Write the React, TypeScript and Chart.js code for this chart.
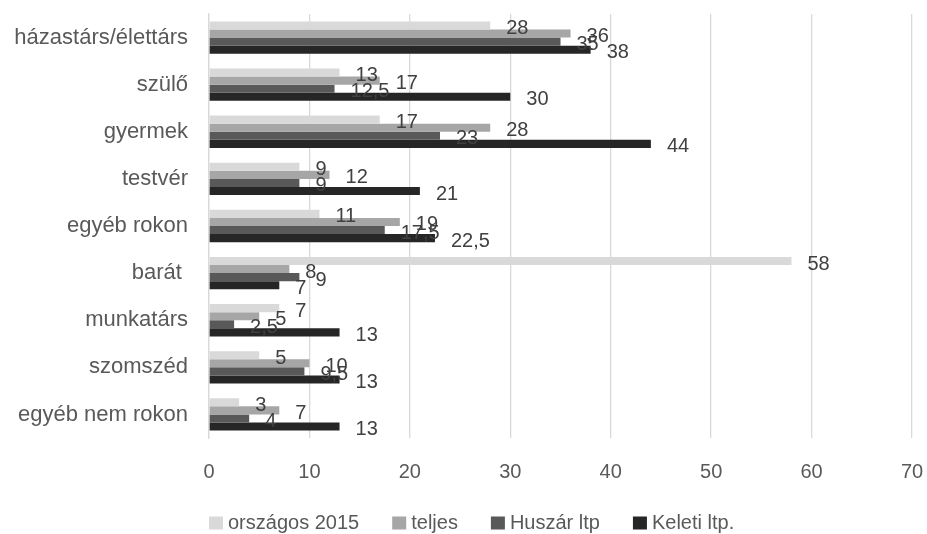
import React, { useEffect, useRef } from "react";
import { Chart, registerables } from "chart.js";

Chart.register(...registerables);

const categories = [
  "házastárs/élettárs",
  "szülő",
  "gyermek",
  "testvér",
  "egyéb rokon",
  "barát ",
  "munkatárs",
  "szomszéd",
  "egyéb nem rokon",
];
const seriesNames = ["országos 2015", "teljes", "Huszár ltp", "Keleti ltp."];
const orszagos2015 = [28, 13, 17, 9, 11, 58, 7, 5, 3];
const teljes = [36, 17, 28, 12, 19, 8, 5, 10, 7];
const huszarLtp = [35, 12.5, 23, 9, 17.5, 9, 2.5, 9.5, 4];
const keletiLtp = [38, 30, 44, 21, 22.5, 7, 13, 13, 13];
const xTicks = [0, 10, 20, 30, 40, 50, 60, 70];

const colors = ["#d9d9d9", "#a6a6a6", "#595959", "#262626"];
const FONT = "'Liberation Sans', Arial, sans-serif";

const labelPlugin = {
  id: "barValueLabels",
  afterDatasetsDraw(chart: any) {
    const ctx = chart.ctx;
    ctx.save();
    ctx.font = `20px ${FONT}`;
    ctx.fillStyle = "#404040";
    ctx.textAlign = "left";
    ctx.textBaseline = "middle";
    chart.data.datasets.forEach((ds: any, di: number) => {
      const meta = chart.getDatasetMeta(di);
      meta.data.forEach((bar: any, i: number) => {
        const v = ds.data[i];
        const txt = String(v).replace(".", ",");
        ctx.fillText(txt, bar.x + 16, bar.y + 3);
      });
    });
    ctx.restore();
  },
};

const legendPlugin = {
  id: "bottomLegend",
  afterDraw(chart: any) {
    const ctx = chart.ctx;
    ctx.save();
    ctx.font = `20px ${FONT}`;
    ctx.textAlign = "left";
    ctx.textBaseline = "middle";
    const yc = 523;
    let x = chart.chartArea.left;
    chart.data.datasets.forEach((ds: any) => {
      ctx.fillStyle = ds.backgroundColor;
      ctx.fillRect(x, yc - 6.5, 14, 13);
      ctx.fillStyle = "#595959";
      ctx.fillText(ds.label, x + 19, yc);
      x += 19 + ctx.measureText(ds.label).width + 33;
    });
    ctx.restore();
  },
};

export default function App() {
  const ref = useRef<HTMLCanvasElement>(null);
  useEffect(() => {
    if (!ref.current) return;
    const all = [orszagos2015, teljes, huszarLtp, keletiLtp];
    const chart = new Chart(ref.current, {
      type: "bar",
      data: {
        labels: categories,
        datasets: all.map((d, i) => ({
          label: seriesNames[i],
          data: d,
          backgroundColor: colors[i],
          borderWidth: 0,
          categoryPercentage: 0.686,
          barPercentage: 1,
        })),
      },
      options: {
        indexAxis: "y",
        animation: false,
        responsive: false,
        devicePixelRatio: 1,
        layout: { padding: { top: 14, right: 15, left: 0, bottom: 0 } },
        plugins: {
          legend: { display: false },
          tooltip: { enabled: false },
        },
        scales: {
          x: {
            min: 0,
            max: 70,
            afterBuildTicks: (s: any) => {
              s.ticks = xTicks.map((v) => ({ value: v }));
            },
            grid: { color: "#d9d9d9", lineWidth: 1.3, drawTicks: false },
            border: { display: false },
            ticks: {
              padding: 22,
              color: "#595959",
              font: { family: FONT, size: 20 },
            },
            afterFit: (s: any) => {
              s.height = 96;
              s.paddingLeft = 0;
              s.paddingRight = 0;
            },
          },
          y: {
            grid: { display: false, drawTicks: false },
            border: { display: true, color: "#d9d9d9", width: 1.3 },
            ticks: {
              padding: 21,
              color: "#595959",
              font: { family: FONT, size: 22 },
            },
            afterFit: (s: any) => {
              s.width = 209;
              s.paddingTop = 0;
              s.paddingBottom = 0;
            },
          },
        },
      },
      plugins: [labelPlugin, legendPlugin],
    });
    return () => chart.destroy();
  }, []);
  return (
    <div style={{ position: "fixed", left: 0, top: 0, width: 927, height: 534, background: "#fff" }}>
      <canvas ref={ref} width={927} height={534} style={{ width: 927, height: 534 }} />
    </div>
  );
}
